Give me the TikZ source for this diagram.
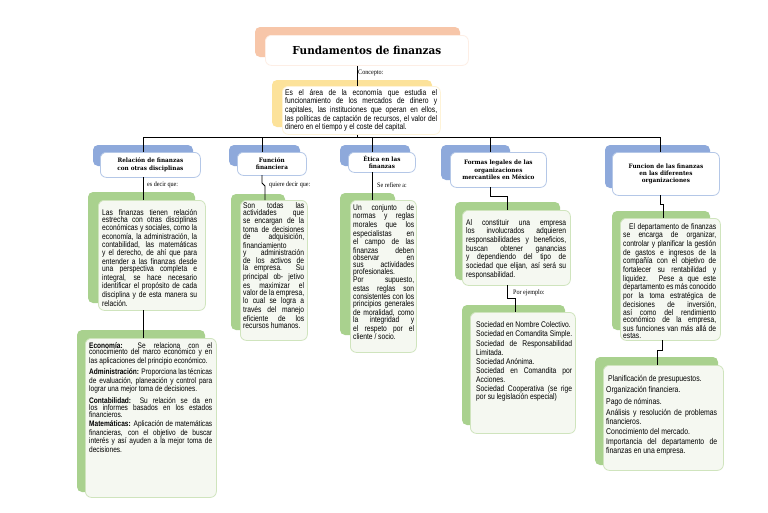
\documentclass[tikz,border=0pt]{standalone}
\usepackage{fontspec}
\setmainfont{Liberation Sans}[FakeStretch=0.82]
\newfontfamily\headf{DejaVu Serif}[FakeStretch=0.95]
\newfontfamily\labf{Liberation Serif}[FakeStretch=0.9]
\hyphenpenalty=10000 \exhyphenpenalty=10000 \tolerance=10000 \emergencystretch=20pt
\definecolor{orb}{HTML}{F7C6A9}
\definecolor{yeb}{HTML}{FCE29A}
\definecolor{blb}{HTML}{8EA9DB}
\definecolor{grb}{HTML}{A9D18E}
\definecolor{grf}{HTML}{F5F8F1}
\definecolor{grl}{HTML}{CFE4BD}
\definecolor{bll}{HTML}{B4C7E7}
\tikzset{
  back/.style={rounded corners=5pt},
  front/.style={draw, line width=0.8pt, rounded corners=6pt, inner sep=0pt},
  gfront/.style={front, draw=grl, fill=grf},
  bfront/.style={front, draw=bll, fill=white},
  body/.style={anchor=north west, inner sep=0pt, align=justify, font=\fontsize{8.2}{7}\selectfont},
  hd/.style={align=center, font=\headf\bfseries\fontsize{6}{7.4}\selectfont},
  lab/.style={font=\labf\fontsize{6.8}{8}\selectfont, anchor=west, inner sep=1pt},
  conn/.style={draw=black, line width=0.8pt}
}
\begin{document}
\begin{tikzpicture}[x=1pt,y=-1pt]
\useasboundingbox (0,0) rectangle (768,512);
\fill[white] (0,0) rectangle (768,512);
% title
\fill[back,orb] (255,27) rectangle (460,57);
\node[front, draw=orb!30, fill=white, minimum width=203pt, minimum height=30pt, anchor=north west] (title) at (265,35) {};
\node[font=\headf\bfseries\fontsize{11}{13}\selectfont] at (title.center) {Fundamentos de finanzas};
% concept
\fill[back,yeb] (272,80) rectangle (432,127);
\node[front, draw=yeb!40, fill=white, minimum width=158pt, minimum height=48pt, anchor=north west] (conc) at (282,86) {};
\node[body, text width=152pt] at (285,89) {Es el área de la economía que estudia el funcionamiento de los mercados de dinero y capitales, las instituciones que operan en ellos, las políticas de captación de recursos, el valor del dinero en el tiempo y el coste del capital.};
\draw[conn] (title.south -| 357,0) -- (357,86);
\node[lab] at (357,73) {Concepto:};
\coordinate (hub) at (357,137);
\draw[conn] (conc.south -| 357,0) -- (hub);
\draw[conn] (143,137) -- (660,137);
% headers
\fill[back,blb] (93,145) rectangle (193,166);
\node[bfront, minimum width=100pt, minimum height=25pt, anchor=north west] (h1) at (100,152) {};
\node[hd] at (h1.center) {Relación de finanzas\\con otras disciplinas};
\fill[back,blb] (229,145) rectangle (300,166);
\node[bfront, minimum width=69pt, minimum height=23pt, anchor=north west] (h2) at (237,152) {};
\node[hd] at (h2.center) {Función\\financiera};
\fill[back,blb] (340,145) rectangle (410,166);
\node[bfront, minimum width=67pt, minimum height=20pt, anchor=north west] (h3) at (348,152) {};
\node[hd] at (h3.center) {Ética en las\\finanzas};
\fill[back,blb] (441,145) rectangle (510,180);
\node[bfront, minimum width=96pt, minimum height=35pt, anchor=north west] (h4) at (450,152) {};
\node[hd] at (h4.center) {Formas legales de las\\organizaciones\\mercantiles en México};
\fill[back,blb] (605,145) rectangle (710,188);
\node[bfront, minimum width=107pt, minimum height=43pt, anchor=north west] (h5) at (612,152) {};
\node[hd] at (h5.center) {Funcion de las finanzas\\en las diferentes\\organizaciones};
\foreach \x in {143,262,372,490,660} \draw[conn] (\x,137) -- (\x,152);
% column 1
\fill[back,grb] (88,192) rectangle (195,303);
\node[gfront, minimum width=107pt, minimum height=110pt, anchor=north west] (g1) at (98,200) {};
\node[body, text width=95pt] at (102,209) {Las finanzas tienen relación estrecha con otras disciplinas económicas y sociales, como la economía, la administración, la contabilidad, las matemáticas y el derecho, de ahí que para entender a las finanzas desde una perspectiva completa e integral, se hace necesario identificar el propósito de cada disciplina y de esta manera su relación.};
\draw[conn] (143,177) -- (143,200);
\node[lab] at (146,185) {es decir que:};
\fill[back,grb] (77,330) rectangle (205,492);
\node[gfront, minimum width=131pt, minimum height=159pt, anchor=north west] (g1b) at (85,338) {};
\node[body, text width=123pt, font=\fontsize{8}{6.8}\selectfont] at (89,342) {\textbf{Economía:} Se relaciona con el conocimiento del marco económico y en las aplicaciones del principio económico.\\[3pt]
\textbf{Administración:} Proporciona las técnicas de evaluación, planeación y control para lograr una mejor toma de decisiones.\\[3pt]
\textbf{Contabilidad:} Su relación se da en los informes basados en los estados financieros.\\[3pt]
\textbf{Matemáticas:} Aplicación de matemáticas financieras, con el objetivo de buscar interés y así ayuden a la mejor toma de decisiones.};
\draw[conn] (143,310) -- (143,338);
% column 2
\fill[back,grb] (231,194) rectangle (285,330);
\node[gfront, minimum width=67pt, minimum height=140pt, anchor=north west] (g2) at (240,200) {};
\node[body, text width=61pt] at (243,202) {Son todas las actividades que se encargan de la toma de decisiones de adquisición, financiamiento y administración de los activos de la empresa. Su principal ob- jetivo es maximizar el valor de la empresa, lo cual se logra a través del manejo eficiente de los recursos humanos.};
\draw[conn] (262,175) -- (262,183) -- (265,186) -- (265,200);
\node[lab] at (268,185) {quiere decir que:};
% column 3
\fill[back,grb] (340,193) rectangle (395,335);
\node[gfront, minimum width=66pt, minimum height=152pt, anchor=north west] (g3) at (350,200) {};
\node[body, text width=61pt] at (353,204) {Un conjunto de normas y reglas morales que los especialistas en el campo de las finanzas deben observar en sus actividades profesionales. Por supuesto, estas reglas son consistentes con los principios generales de moralidad, como la integridad y el respeto por el cliente / socio.};
\draw[conn] (372,172) -- (372,200);
\node[lab] at (376,185) {Se refiere a:};
% column 4
\fill[back,grb] (455,202) rectangle (560,280);
\node[gfront, minimum width=108pt, minimum height=75pt, anchor=north west] (g4) at (462,210) {};
\node[body, text width=100pt] at (466,219) {Al constituir una empresa los involucrados adquieren responsabilidades y beneficios, buscan obtener ganancias y dependiendo del tipo de sociedad que elijan, así será su responsabilidad.};
\draw[conn] (490,187) -- (490,196) -- (507,196) -- (507,210);
\fill[back,grb] (462,305) rectangle (565,425);
\node[gfront, minimum width=105pt, minimum height=121pt, anchor=north west] (g4b) at (470,312) {};
\node[body, text width=96pt] at (476,321) {Sociedad en Nombre Colectivo.\\[2pt]
Sociedad en Comandita Simple.\\[2pt]
Sociedad de Responsabilidad Limitada.\\[2pt]
Sociedad Anónima.\\[2pt]
Sociedad en Comandita por Acciones.\\[2pt]
Sociedad Cooperativa (se rige por su legislación especial)};
\draw[conn] (507,285) -- (507,298) -- (515,298) -- (515,312);
\node[lab] at (512,293) {Por ejemplo:};
% column 5
\fill[back,grb] (612,211) rectangle (710,330);
\node[gfront, minimum width=100pt, minimum height=122pt, anchor=north west] (g5) at (620,218) {};
\node[body, text width=93pt] at (623,223) {\hspace{6pt}El departamento de finanzas se encarga de organizar, controlar y planificar la gestión de gastos e ingresos de la compañía con el objetivo de fortalecer su rentabilidad y liquidez. Pese a que este departamento es más conocido por la toma estratégica de decisiones de inversión, así como del rendimiento económico de la empresa, sus funciones van más allá de estas.};
\draw[conn] (660,195) -- (660,204) -- (663,204) -- (663,218);
\fill[back,grb] (595,357) rectangle (718,465);
\node[gfront, minimum width=120pt, minimum height=105pt, anchor=north west] (g5b) at (603,365) {};
\node[body, text width=111pt, font=\fontsize{8.4}{7.4}\selectfont] at (606,375) {\hspace{2pt}Planificación de presupuestos.\\[2.5pt]
Organización financiera.\\[2.5pt]
Pago de nóminas.\\[2.5pt]
Análisis y resolución de problemas financieros.\\[2.5pt]
Conocimiento del mercado.\\[2.5pt]
Importancia del departamento de finanzas en una empresa.};
\draw[conn] (662,340) -- (662,350) -- (657,350) -- (657,365);
\end{tikzpicture}
\end{document}
